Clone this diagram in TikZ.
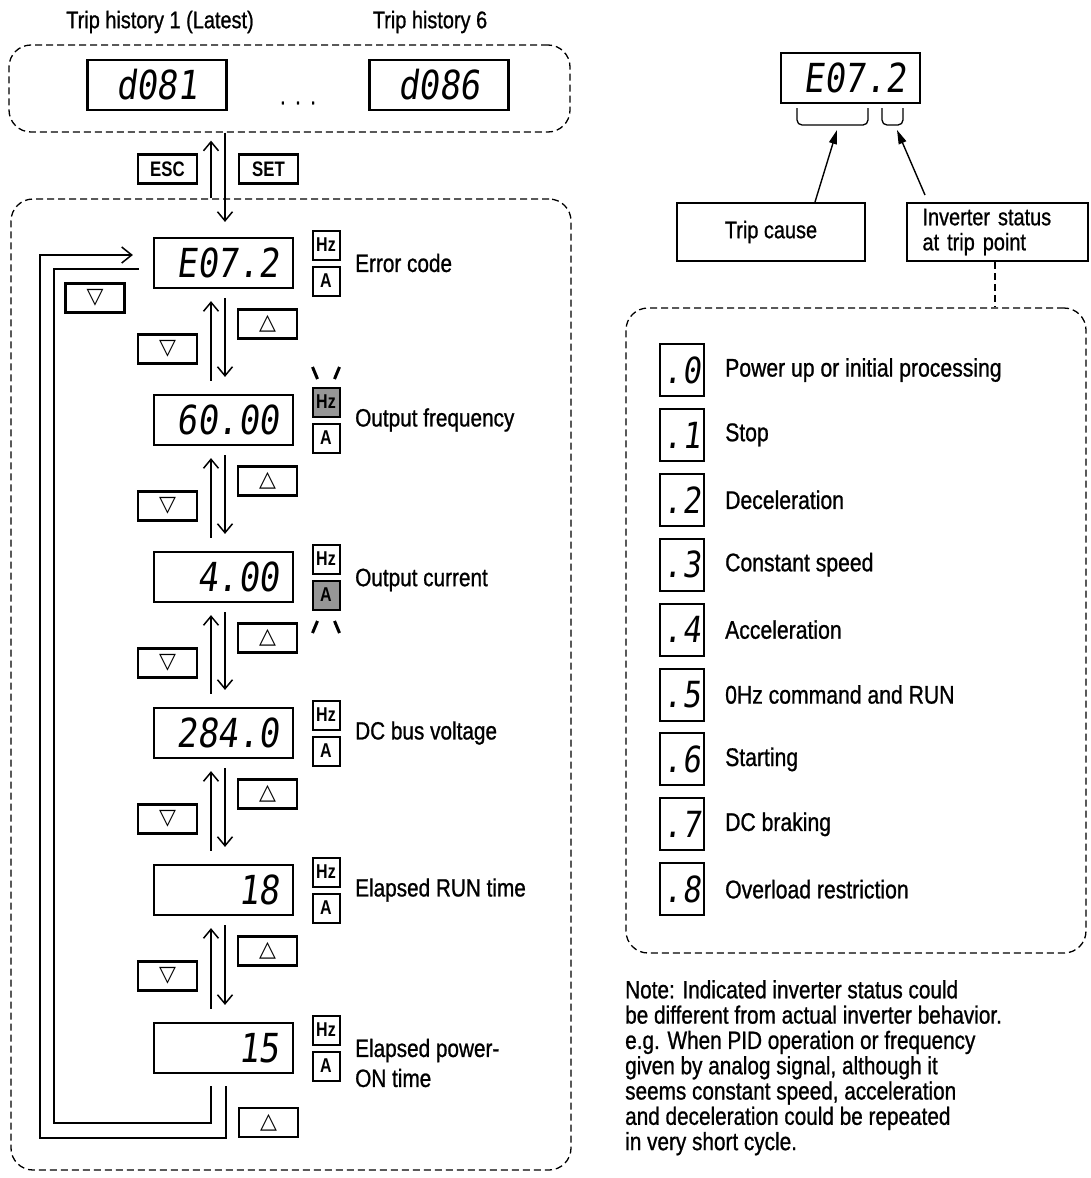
\documentclass[tikz,border=0pt]{standalone}
\usepackage{fontspec}
\setmainfont{Liberation Sans}[FakeStretch=0.83,FakeBold=0.9]
\newfontfamily\segfont{DejaVu Sans Mono}[FakeStretch=0.85,FakeSlant=0.13]
\newfontfamily\symfont{DejaVu Sans}
\newfontfamily\keyfont{Liberation Sans}[FakeStretch=0.8]
\usetikzlibrary{arrows.meta}
\definecolor{litgray}{RGB}{150,150,150}
\begin{document}
\begin{tikzpicture}[x=1pt,y=-1pt,
  disp/.style={draw, line width=2.2pt, minimum height=50pt, text width=111pt, inner xsep=14pt, inner ysep=0pt, align=right, font=\segfont\fontsize{40}{40}\selectfont},
  dispc/.style={disp, align=center},
  legdig/.style={draw, line width=2pt, minimum width=44pt, minimum height=52pt, inner sep=0pt, font=\segfont\fontsize{36}{36}\selectfont},
  keybox/.style={draw, line width=2.2pt, minimum width=59pt, minimum height=29pt, inner sep=0pt, font=\keyfont\bfseries\fontsize{21}{21}\selectfont},
  trikey/.style={keybox, font=\symfont\fontsize{22}{22}\selectfont},
  unitbox/.style={draw, line width=2pt, minimum width=27pt, minimum height=29pt, inner sep=0pt, font=\keyfont\bfseries\fontsize{20}{20}\selectfont},
  lbl/.style={anchor=west, inner sep=0pt, align=left, font=\fontsize{25}{30}\selectfont},
  title/.style={inner sep=0pt, font=\fontsize{24}{28}\selectfont},
  dotstyle/.style={inner sep=0pt, font=\fontsize{24}{28}\selectfont\addfontfeature{LetterSpace=40}},
  legtxt/.style={anchor=west, inner sep=0pt, font=\fontsize{25.5}{28}\selectfont},
  flowarr/.style={line width=1.5pt, -{Straight Barb[length=9pt,width=15pt]}},
  loopline/.style={line width=2.5pt},
  looparr/.style={loopline, -{Straight Barb[length=10pt,width=16pt,line width=1.5pt]}},
  dbox/.style={draw, dash pattern=on 7pt off 4pt, line width=1.3pt, rounded corners=22pt, inner sep=0pt},
  infobox/.style={draw, line width=2pt, minimum height=58pt, inner sep=0pt, font=\fontsize{24}{25}\selectfont},
  tiparr/.style={line width=1.4pt, -{Triangle[length=14pt,width=8pt]}},
  flash/.style={line width=3pt},
  brk/.style={line width=1.3pt, rounded corners=5pt}
]
\useasboundingbox (0,0) rectangle (1091,1178);

% ---------- top: trip history ----------
\node[title] (th1) at (160,22) {Trip history 1 (Latest)};
\node[title] (th6) at (430,22) {Trip history 6};
\node[dbox, minimum width=561pt, minimum height=87pt] (topbox) at (289.5,88.5) {};
\node[dispc] (h1) at (157,85) {d081};
\node[dispc] (h6) at (439,85) {d086};
\node[dotstyle] (dots) at (298,103) {...};

\node[keybox] (esc) at (167.5,169) {ESC};
\node[keybox] (set) at (268.5,169) {SET};

% ---------- main monitor box ----------
\node[dbox, minimum width=560pt, minimum height=971pt] (mainbox) at (291,684.5) {};

\node[disp] (d1) at (223.5,263) {E07.2};
\node[disp] (d2) at (223.5,420) {60.00};
\node[disp] (d3) at (223.5,577) {4.00};
\node[disp] (d4) at (223.5,733) {284.0};
\node[disp] (d5) at (223.5,890) {18};
\node[disp] (d6) at (223.5,1048) {15};

\node[unitbox] (hz1) at (326,245) {Hz};
\node[unitbox] (a1)  at (326,281) {A};
\node[unitbox, fill=litgray] (hz2) at (326,402) {Hz};
\node[unitbox] (a2)  at (326,438) {A};
\node[unitbox] (hz3) at (326,559) {Hz};
\node[unitbox, fill=litgray] (a3)  at (326,595) {A};
\node[unitbox] (hz4) at (326,715) {Hz};
\node[unitbox] (a4)  at (326,751) {A};
\node[unitbox] (hz5) at (326,872) {Hz};
\node[unitbox] (a5)  at (326,908) {A};
\node[unitbox] (hz6) at (326,1030) {Hz};
\node[unitbox] (a6)  at (326,1066) {A};

% flashing marks
\draw[flash] (312.5,367) -- (317.5,379);
\draw[flash] (339.5,367) -- (334.5,379);
\draw[flash] (317.5,621) -- (312.5,633);
\draw[flash] (334.5,621) -- (339.5,633);

\node[lbl] (l1) at (355,263) {Error code};
\node[lbl] (l2) at (355,420) {Output frequency};
\node[lbl] (l3) at (355,580) {Output current};
\node[lbl] (l4) at (355,733) {DC bus voltage};
\node[lbl] (l5) at (355,890) {Elapsed RUN time};
\node[lbl] (l6) at (355,1063) {Elapsed power-\\ON time};

% keys between displays
\node[trikey] (up1) at (267.5,324) {△};
\node[trikey] (dn1) at (167.5,349) {▽};
\node[trikey] (up2) at (267.5,481) {△};
\node[trikey] (dn2) at (167.5,506) {▽};
\node[trikey] (up3) at (267.5,638) {△};
\node[trikey] (dn3) at (167.5,663) {▽};
\node[trikey] (up4) at (267.5,794) {△};
\node[trikey] (dn4) at (167.5,819) {▽};
\node[trikey] (up5) at (267.5,951) {△};
\node[trikey] (dn5) at (167.5,976) {▽};
\node[trikey] (up6) at (268.5,1122.5) {△};
\node[trikey] (dn0) at (95,298) {▽};

% ESC / SET arrows
\draw[flowarr] ([xshift=-80pt]mainbox.north) -- ([xshift=-78.5pt,yshift=-8pt]topbox.south);
\draw[flowarr] ([xshift=-64.5pt]topbox.south) -- ([xshift=1.5pt,yshift=15pt]d1.north);

% up/down arrows between displays
\foreach \a/\b in {d1/d2,d2/d3,d3/d4,d4/d5,d5/d6}{
  \draw[flowarr] ([xshift=-12.5pt,yshift=13pt]\b.north) -- ([xshift=-12.5pt,yshift=-12pt]\a.south);
  \draw[flowarr] ([xshift=1.5pt,yshift=-9pt]\a.south) -- ([xshift=1.5pt,yshift=17pt]\b.north);
}

% wrap-around loops
\draw[looparr] ([xshift=2.5pt,yshift=-12pt]d6.south) -- ++(0,52) -| (40,255) -- ([xshift=-20pt,yshift=8pt]d1.west);
\draw[loopline] ([xshift=-12.5pt,yshift=-12pt]d6.south) -- ++(0,37) -| (54,269) -- ([xshift=-14pt,yshift=-6pt]d1.west);

% ---------- right side ----------
\node[disp] (r0) at (850.5,78) {E07.2};
\draw[brk] (797,108) |- (868,125) -- (868,108);
\draw[brk] (882,108) |- (903,125) -- (903,108);
\coordinate (tcTip) at (837,130);
\coordinate (isTip) at (897,130);

\node[infobox, minimum width=188pt] (tc) at (771,232) {Trip cause};
\node[infobox, minimum width=181pt, text width=150pt, inner xsep=15.5pt, align=left] (is) at (997.5,232) {Inverter status\\at trip point};
\draw[tiparr] ([xshift=44pt]tc.north) -- (tcTip);
\draw[tiparr] ([xshift=-72.5pt,yshift=7pt]is.north) -- (isTip);

\node[dbox, minimum width=460pt, minimum height=645pt] (legend) at (856,630.5) {};
\draw[line width=1.3pt, dash pattern=on 7pt off 4pt] ([xshift=-2.5pt]is.south) -- ([xshift=-2.5pt]is.south |- legend.north);

\node[legdig] (s0) at (682,370) {.0};
\node[legdig] (s1) at (682,434.9) {.1};
\node[legdig] (s2) at (682,499.8) {.2};
\node[legdig] (s3) at (682,564.7) {.3};
\node[legdig] (s4) at (682,629.6) {.4};
\node[legdig] (s5) at (682,694.5) {.5};
\node[legdig] (s6) at (682,759.4) {.6};
\node[legdig] (s7) at (682,824.3) {.7};
\node[legdig] (s8) at (682,889.2) {.8};

\node[legtxt] (t0) at (725,370) {Power up or initial processing};
\node[legtxt] (t1) at (725,434.9) {Stop};
\node[legtxt] (t2) at (725,499.8) {Deceleration};
\node[legtxt] (t3) at (725,564.7) {Constant speed};
\node[legtxt] (t4) at (725,629.6) {Acceleration};
\node[legtxt] (t5) at (725,694.5) {0Hz command and RUN};
\node[legtxt] (t6) at (725,759.4) {Starting};
\node[legtxt] (t7) at (725,824.3) {DC braking};
\node[legtxt] (t8) at (725,889.2) {Overload restriction};

\node[anchor=north west, inner sep=0pt, align=left, font=\fontsize{25}{25.3}\selectfont] (note) at (625,980) {Note: Indicated inverter status could\\be different from actual inverter behavior.\\e.g. When PID operation or frequency\\given by analog signal, although it\\seems constant speed, acceleration\\and deceleration could be repeated\\in very short cycle.};
\end{tikzpicture}
\end{document}
